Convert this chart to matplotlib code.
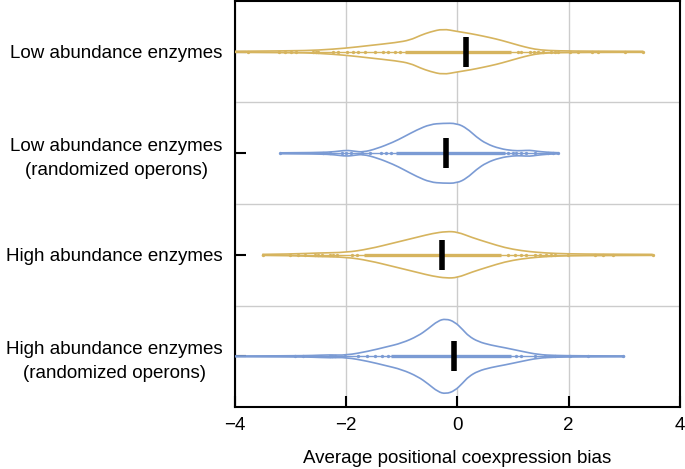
import matplotlib
matplotlib.use("Agg")
import matplotlib.pyplot as plt
from matplotlib.path import Path
from matplotlib.patches import PathPatch

# categories, top to bottom
labels = [
    "Low abundance enzymes",
    "Low abundance enzymes\n(randomized operons)",
    "High abundance enzymes",
    "High abundance enzymes\n(randomized operons)",
]
GOLD = "#d6b45e"
BLUE = "#7b9bd4"
colors = [GOLD, BLUE, GOLD, BLUE]

# violin outlines: x positions and half widths (category units)
prof_x = [
    [-4.05, -3.0, -2.5, -2.0, -1.6, -1.1, -0.85, -0.67, -0.49, -0.26, -0.01, 0.22, 0.45, 0.7, 0.9, 1.12, 1.3, 1.48, 1.8, 2.5, 3.34],
    [-3.19, -2.5, -2.2, -2.0, -1.85, -1.7, -1.45, -1.15, -0.97, -0.73, -0.49, -0.26, -0.01, 0.17, 0.34, 0.52, 0.76, 1.0, 1.15, 1.3, 1.42, 1.6, 1.81],
    [-3.51, -3.0, -2.5, -2.0, -1.6, -1.12, -0.71, -0.45, -0.2, 0.0, 0.26, 0.55, 0.85, 1.15, 1.45, 1.75, 2.2, 3.51],
    [-4.05, -3.0, -2.6, -2.3, -2.0, -1.6, -1.3, -1.0, -0.71, -0.53, -0.35, -0.21, -0.05, 0.1, 0.2, 0.37, 0.6, 0.85, 1.15, 1.45, 1.75, 2.2, 3.0],
]
prof_w = [
    [0.004, 0.008, 0.015, 0.035, 0.06, 0.09, 0.115, 0.16, 0.195, 0.225, 0.2, 0.18, 0.155, 0.125, 0.095, 0.06, 0.035, 0.017, 0.008, 0.005, 0.004],
    [0.004, 0.006, 0.015, 0.03, 0.02, 0.01, 0.045, 0.11, 0.16, 0.23, 0.285, 0.295, 0.295, 0.245, 0.16, 0.093, 0.045, 0.025, 0.025, 0.03, 0.02, 0.01, 0.005],
    [0.004, 0.007, 0.018, 0.023, 0.056, 0.12, 0.175, 0.21, 0.23, 0.225, 0.17, 0.12, 0.07, 0.04, 0.023, 0.013, 0.007, 0.004],
    [0.003, 0.005, 0.008, 0.015, 0.01, 0.05, 0.09, 0.13, 0.2, 0.27, 0.35, 0.37, 0.34, 0.26, 0.2, 0.145, 0.11, 0.085, 0.05, 0.017, 0.008, 0.005, 0.004],
]

medians = [0.15, -0.21, -0.27, -0.06]

# dense band of points (start, end) and sparse individual points
dense = [(-0.95, 0.97), (-1.1, 0.85), (-1.68, 0.79), (-1.2, 0.97)]
dots = [
    [-3.76, -3.2, -3.1, -3.0, -2.9, -2.6, -2.55, -2.5, -2.23, -2.14, -1.99, -1.87, -1.78, -1.66, -1.48, -1.33, -1.24, -1.12, -1.03,
     1.09, 1.15, 1.3, 1.37, 1.45, 1.54, 1.69, 1.75, 1.81, 2.02, 2.17, 2.41, 2.53, 3.01, 3.34],
    [-3.19, -2.41, -2.29, -2.07, -2.0, -1.92, -1.72, -1.57, -1.37, -1.28, -1.19,
     0.91, 1.0, 1.06, 1.15, 1.24, 1.39, 1.63, 1.72, 1.81],
    [-3.49, -3.01, -2.86, -2.74, -2.56, -2.5, -2.44, -2.3, -2.23, -2.16, -1.9, -1.81,
     0.91, 1.03, 1.15, 1.24, 1.39, 1.48, 1.6, 1.68, 1.75, 1.99, 2.47, 2.62, 2.8, 3.52],
    [-2.92, -2.77, -2.3, -2.25, -2.2, -2.02, -1.78, -1.63, -1.48, -1.36, -1.24,
     1.06, 1.15, 1.39, 1.57, 1.75, 2.02, 2.35, 2.98],
]


def smooth_path(pts):
    # quadratic curves through midpoints, points act as control points
    verts = [pts[0]]
    codes = [Path.MOVETO]
    for k in range(1, len(pts) - 1):
        mid = ((pts[k][0] + pts[k + 1][0]) / 2, (pts[k][1] + pts[k + 1][1]) / 2)
        verts += [pts[k], mid]
        codes += [Path.CURVE3, Path.CURVE3]
    verts.append(pts[-1])
    codes.append(Path.LINETO)
    return verts, codes


plt.rcParams["font.family"] = ["Liberation Sans", "DejaVu Sans"]

fig = plt.figure(figsize=(6.85, 4.69), dpi=100)
ax = fig.add_axes([0.343, 0.132, 0.6497, 0.866])

for i in range(len(labels)):
    c = colors[i]
    xs = prof_x[i]
    up = list(zip(xs, [i - w for w in prof_w[i]]))
    lo = list(zip(xs, [i + w for w in prof_w[i]]))
    vu, cu = smooth_path(up)
    vl, cl = smooth_path(lo)
    # closed white body so the grid does not show through
    vl_rev, cl_rev = smooth_path(lo[::-1])
    body_v = vu + vl_rev[1:] + [vu[0]]
    body_c = cu + cl_rev[1:] + [Path.CLOSEPOLY]
    ax.add_patch(PathPatch(Path(body_v, body_c), facecolor="white", edgecolor="none", zorder=2))
    ax.add_patch(PathPatch(Path(vu, cu), facecolor="none", edgecolor=c, lw=1.2, zorder=3))
    ax.add_patch(PathPatch(Path(vl, cl), facecolor="none", edgecolor=c, lw=1.2, zorder=3))
    ax.plot([xs[0], xs[-1]], [i, i], color=c, lw=1.0, zorder=3)
    ax.plot(list(dense[i]), [i, i], color=c, lw=2.4, zorder=3, solid_capstyle="butt")
    ax.plot(dots[i], [i] * len(dots[i]), "o", color=c, ms=2.4, mew=0, zorder=3)
    ax.vlines(medians[i], i - 0.148, i + 0.148, color="black", lw=4, zorder=4)

ax.set_xlim(-4, 4)
ax.set_ylim(3.5, -0.5)
ax.set_xticks([-4, -2, 0, 2, 4])
ax.set_xticklabels(["\u22124", "\u22122", "0", "2", "4"])
ax.set_yticks(range(len(labels)))
ax.set_yticklabels(labels, multialignment="center", linespacing=1.5)
ax.set_yticks([0.5, 1.5, 2.5], minor=True)
ax.tick_params(axis="y", which="minor", length=0)
ax.grid(True, axis="x", color="#cccccc", lw=1, zorder=0)
ax.grid(True, axis="y", which="minor", color="#cccccc", lw=1, zorder=0)
ax.set_axisbelow(True)
ax.tick_params(axis="both", which="major", direction="in", length=8, width=1.5,
               labelsize=13.5, pad=9)
ax.tick_params(axis="x", pad=7)
for s in ax.spines.values():
    s.set_linewidth(1.5)
ax.set_xlabel("Average positional coexpression bias", fontsize=13.5, labelpad=12)

fig.savefig("out.png", dpi=100)
